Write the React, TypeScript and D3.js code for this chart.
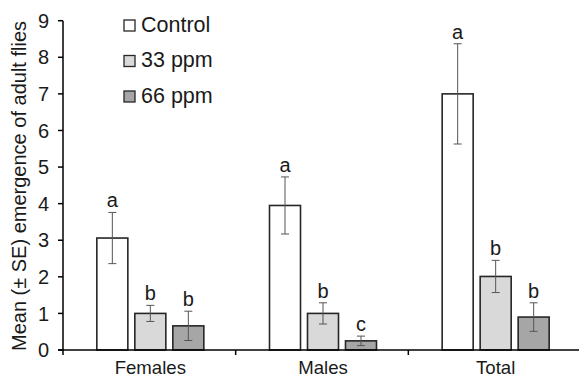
import * as d3 from "d3";
import React from 'react'

const groups = ["Females", "Males", "Total"]
const series = ["Control", "33 ppm", "66 ppm"]
const colors = ["#ffffff", "#d9d9d9", "#a6a6a6"]
// means per group, one array per series
const means = [
  [3.06, 3.95, 7.0],
  [1.0, 1.0, 2.01],
  [0.66, 0.25, 0.9],
]
const errors = [
  [0.7, 0.78, 1.37],
  [0.22, 0.29, 0.44],
  [0.4, 0.13, 0.39],
]
const letters = [
  ["a", "a", "a"],
  ["b", "b", "b"],
  ["b", "c", "b"],
]
const yTicks = [0, 1, 2, 3, 4, 5, 6, 7, 8, 9]

const W = 579, H = 378
const font = "Arial, 'Liberation Sans', sans-serif"

const App: React.FC = () => {
  const y = d3.scaleLinear([0, 9], [350, 20.7])
  const x = d3.scaleBand(groups, [63, 581])
  const inner = d3.scaleBand(series, [-52.5, 54.5]).paddingInner(0.184)

  return (
    <div style={{ position: "absolute", left: 0, top: 0 }}>
      <svg width={W} height={H} style={{ display: "block", fontFamily: font }}>
        <rect width={W} height={H} fill="#fff" />
        {/* bars */}
        {series.map((s, si) => groups.map((g, gi) => {
          const cx = x(g)! + x.bandwidth() / 2
          const bx = cx + inner(s)!
          const v = means[si][gi]
          const e = errors[si][gi]
          const mid = bx + inner.bandwidth() / 2
          return (
            <g key={s + g}>
              <rect x={bx} y={y(v)} width={inner.bandwidth()} height={y(0) - y(v)}
                fill={colors[si]} stroke="#262626" strokeWidth={1.6} />
              <g stroke="#555" strokeWidth={1}>
                <line x1={mid} x2={mid} y1={y(v + e)} y2={y(v - e)} />
                <line x1={mid - 4} x2={mid + 4} y1={y(v + e)} y2={y(v + e)} />
                <line x1={mid - 4} x2={mid + 4} y1={y(v - e)} y2={y(v - e)} />
              </g>
              <text x={mid} y={y(v + e) - 5} textAnchor="middle" fontSize={20} fill="#1a1a1a">{letters[si][gi]}</text>
            </g>
          )
        }))}
        {/* y axis */}
        <line x1={63} x2={63} y1={y(9)} y2={y(0)} stroke="#000" strokeWidth={1.5} />
        {yTicks.map(t => (
          <g key={t}>
            <line x1={58} x2={63} y1={y(t)} y2={y(t)} stroke="#000" strokeWidth={1.5} />
            <text x={49} y={y(t)} dy="0.36em" textAnchor="end" fontSize={20} fill="#1a1a1a">{t}</text>
          </g>
        ))}
        {/* x axis */}
        <line x1={58} x2={W} y1={y(0)} y2={y(0)} stroke="#000" strokeWidth={1.5} />
        {groups.map((g, i) => (
          <g key={g}>
            <line x1={x(g)!} x2={x(g)!} y1={y(0)} y2={y(0) + 5} stroke="#000" strokeWidth={1.5} />
            <text x={x(g)! + x.bandwidth() / 2 + 1} y={374} textAnchor="middle" fontSize={18.6} fill="#1a1a1a">{g}</text>
          </g>
        ))}
        {/* axis title */}
        <text transform={`translate(26, 186) rotate(-90)`} textAnchor="middle" fontSize={20} fill="#1a1a1a">
          Mean (± SE) emergence of adult flies
        </text>
        {/* legend */}
        {series.map((s, i) => (
          <g key={s} transform={`translate(124, ${20 + i * 35.5})`}>
            <rect x={0} y={0} width={11} height={11} fill={colors[i]} stroke="#262626" strokeWidth={1.3} />
            <text x={17} y={11.5} fontSize={21.5} fill="#1a1a1a">{s}</text>
          </g>
        ))}
      </svg>
    </div>
  )
}

export default App
